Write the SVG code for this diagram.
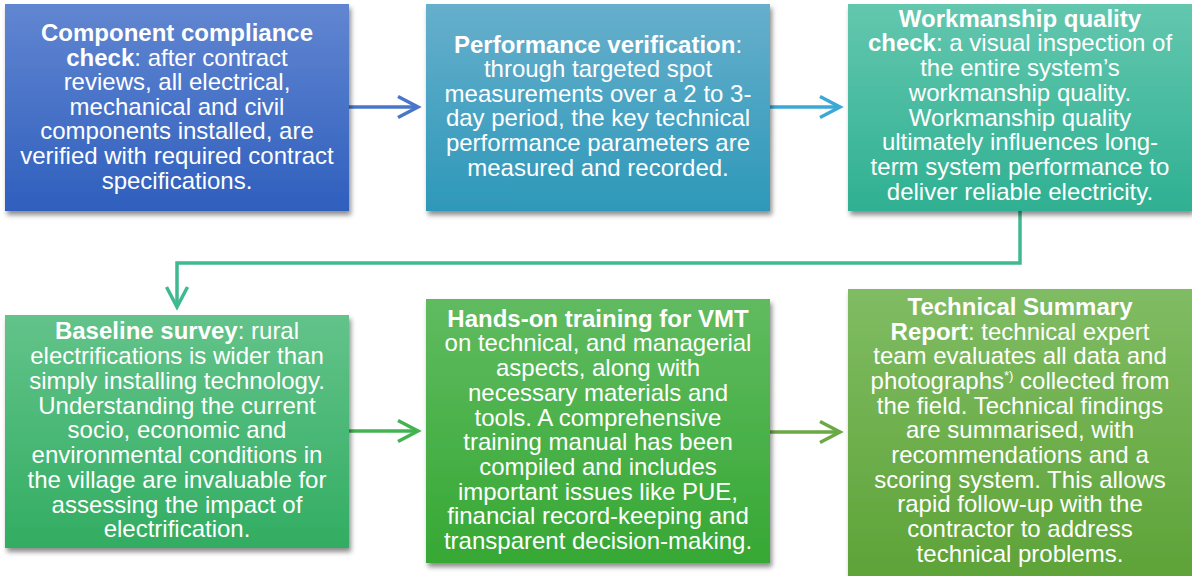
<svg xmlns="http://www.w3.org/2000/svg" width="1192" height="576" viewBox="0 0 1192 576">
<style>
.t{font-family:"Liberation Sans",Arial,sans-serif;font-size:24px;fill:#ffffff;text-anchor:middle}
.b{font-weight:bold}
.c{fill:none;stroke-width:3.5}
</style>
<defs>
<filter id="sh" x="-10%" y="-10%" width="125%" height="130%">
<feDropShadow dx="2" dy="4" stdDeviation="2.5" flood-color="#000" flood-opacity="0.45"/>
</filter>
<linearGradient id="g1" x1="0" y1="0" x2="0" y2="1"><stop offset="0" stop-color="#6186d1"/><stop offset="1" stop-color="#2f5fbd"/></linearGradient>
<linearGradient id="g2" x1="0" y1="0" x2="0" y2="1"><stop offset="0" stop-color="#66afcc"/><stop offset="1" stop-color="#2e98b9"/></linearGradient>
<linearGradient id="g3" x1="0" y1="0" x2="0" y2="1"><stop offset="0" stop-color="#63c7ae"/><stop offset="1" stop-color="#2fb092"/></linearGradient>
<linearGradient id="g4" x1="0" y1="0" x2="0" y2="1"><stop offset="0" stop-color="#63c38a"/><stop offset="1" stop-color="#32ad62"/></linearGradient>
<linearGradient id="g5" x1="0" y1="0" x2="0" y2="1"><stop offset="0" stop-color="#60bb60"/><stop offset="1" stop-color="#36a834"/></linearGradient>
<linearGradient id="g6" x1="0" y1="0" x2="0" y2="1"><stop offset="0" stop-color="#80bc63"/><stop offset="1" stop-color="#5ca236"/></linearGradient>
<marker id="m1" markerUnits="userSpaceOnUse" viewBox="-25 -15 30 30" refX="0" refY="0" markerWidth="30" markerHeight="30" orient="auto" overflow="visible"><path d="M-20,-10.5 L0,0 L-20,10.5" fill="none" stroke="#4a76c9" stroke-width="3.5"/></marker>
<marker id="m2" markerUnits="userSpaceOnUse" viewBox="-25 -15 30 30" refX="0" refY="0" markerWidth="30" markerHeight="30" orient="auto" overflow="visible"><path d="M-20,-10.5 L0,0 L-20,10.5" fill="none" stroke="#3ba8d6" stroke-width="3.5"/></marker>
<marker id="m3" markerUnits="userSpaceOnUse" viewBox="-25 -15 30 30" refX="0" refY="0" markerWidth="30" markerHeight="30" orient="auto" overflow="visible"><path d="M-20,-10.5 L0,0 L-20,10.5" fill="none" stroke="#3fb98f" stroke-width="3.5"/></marker>
<marker id="m4" markerUnits="userSpaceOnUse" viewBox="-25 -15 30 30" refX="0" refY="0" markerWidth="30" markerHeight="30" orient="auto" overflow="visible"><path d="M-20,-10.5 L0,0 L-20,10.5" fill="none" stroke="#43b352" stroke-width="3.5"/></marker>
<marker id="m5" markerUnits="userSpaceOnUse" viewBox="-25 -15 30 30" refX="0" refY="0" markerWidth="30" markerHeight="30" orient="auto" overflow="visible"><path d="M-20,-10.5 L0,0 L-20,10.5" fill="none" stroke="#6aa944" stroke-width="3.5"/></marker>
</defs>
<rect width="1192" height="576" fill="#ffffff"/>

<g id="connectors">
<path class="c" d="M349,107 H418" stroke="#4a76c9" marker-end="url(#m1)"/>
<path class="c" d="M770,107 H840" stroke="#3ba8d6" marker-end="url(#m2)"/>
<path class="c" d="M1020,211 V263 H177 V307" stroke="#3fb98f" marker-end="url(#m3)"/>
<path class="c" d="M349,431 H418" stroke="#43b352" marker-end="url(#m4)"/>
<path class="c" d="M770,432 H840" stroke="#6aa944" marker-end="url(#m5)"/>
</g>

<g id="node-component-compliance">
<rect x="5" y="4" width="344" height="207" fill="url(#g1)" filter="url(#sh)"/>
<text class="t" x="177" y="41"><tspan class="b">Component compliance</tspan></text>
<text class="t" x="177" y="65.6"><tspan class="b">check</tspan>: after contract</text>
<text class="t" x="177" y="90.2">reviews, all electrical,</text>
<text class="t" x="177" y="114.8">mechanical and civil</text>
<text class="t" x="177" y="139.4">components installed, are</text>
<text class="t" x="177" y="164">verified with required contract</text>
<text class="t" x="177" y="188.6">specifications.</text>
</g>

<g id="node-performance-verification">
<rect x="426" y="4" width="344" height="207" fill="url(#g2)" filter="url(#sh)"/>
<text class="t" x="598" y="52.5"><tspan class="b">Performance verification</tspan>:</text>
<text class="t" x="598" y="77.1">through targeted spot</text>
<text class="t" x="598" y="101.7">measurements over a 2 to 3-</text>
<text class="t" x="598" y="126.3">day period, the key technical</text>
<text class="t" x="598" y="150.9">performance parameters are</text>
<text class="t" x="598" y="175.5">measured and recorded.</text>
</g>

<g id="node-workmanship-quality">
<rect x="848" y="4" width="344" height="207" fill="url(#g3)" filter="url(#sh)"/>
<text class="t" x="1020" y="26.7"><tspan class="b">Workmanship quality</tspan></text>
<text class="t" x="1020" y="51.4"><tspan class="b">check</tspan>: a visual inspection of</text>
<text class="t" x="1020" y="76.1">the entire system’s</text>
<text class="t" x="1020" y="100.8">workmanship quality.</text>
<text class="t" x="1020" y="125.5">Workmanship quality</text>
<text class="t" x="1020" y="150.2">ultimately influences long-</text>
<text class="t" x="1020" y="174.9">term system performance to</text>
<text class="t" x="1020" y="199.6">deliver reliable electricity.</text>
</g>

<g id="node-baseline-survey">
<rect x="5" y="315" width="344" height="233" fill="url(#g4)" filter="url(#sh)"/>
<text class="t" x="177" y="339.3"><tspan class="b">Baseline survey</tspan>: rural</text>
<text class="t" x="177" y="364">electrifications is wider than</text>
<text class="t" x="177" y="388.8">simply installing technology.</text>
<text class="t" x="177" y="413.5">Understanding the current</text>
<text class="t" x="177" y="438.3">socio, economic and</text>
<text class="t" x="177" y="463">environmental conditions in</text>
<text class="t" x="177" y="487.8">the village are invaluable for</text>
<text class="t" x="177" y="512.5">assessing the impact of</text>
<text class="t" x="177" y="537.3">electrification.</text>
</g>

<g id="node-hands-on-training">
<rect x="426" y="299" width="344" height="264" fill="url(#g5)" filter="url(#sh)"/>
<text class="t" x="598" y="326.7"><tspan class="b">Hands-on training for VMT</tspan></text>
<text class="t" x="598" y="351.4">on technical, and managerial</text>
<text class="t" x="598" y="376.1">aspects, along with</text>
<text class="t" x="598" y="400.8">necessary materials and</text>
<text class="t" x="598" y="425.5">tools. A comprehensive</text>
<text class="t" x="598" y="450.2">training manual has been</text>
<text class="t" x="598" y="474.9">compiled and includes</text>
<text class="t" x="598" y="499.6">important issues like PUE,</text>
<text class="t" x="598" y="524.3">financial record-keeping and</text>
<text class="t" x="598" y="549">transparent decision-making.</text>
</g>

<g id="node-technical-summary">
<rect x="848" y="289" width="344" height="300" fill="url(#g6)" filter="url(#sh)"/>
<text class="t" x="1020" y="315"><tspan class="b">Technical Summary</tspan></text>
<text class="t" x="1020" y="339.7"><tspan class="b">Report</tspan>: technical expert</text>
<text class="t" x="1020" y="364.3">team evaluates all data and</text>
<text class="t" x="1020" y="389">photographs<tspan font-size="13" dy="-9">*)</tspan><tspan dy="9"> collected from</tspan></text>
<text class="t" x="1020" y="413.7">the field. Technical findings</text>
<text class="t" x="1020" y="438.3">are summarised, with</text>
<text class="t" x="1020" y="463">recommendations and a</text>
<text class="t" x="1020" y="487.7">scoring system. This allows</text>
<text class="t" x="1020" y="512.3">rapid follow-up with the</text>
<text class="t" x="1020" y="537">contractor to address</text>
<text class="t" x="1020" y="561.7">technical problems.</text>
</g>
</svg>
